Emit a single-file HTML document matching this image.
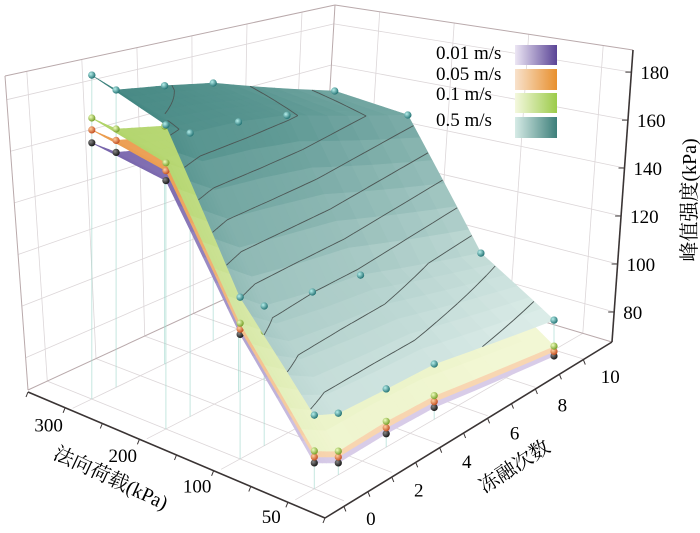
<!DOCTYPE html>
<html><head><meta charset="utf-8"><style>
html,body{margin:0;padding:0;background:#fff;}
svg{display:block;font-family:"Liberation Serif","Noto Serif CJK SC",serif;}
</style></head><body>
<svg id="chart" width="700" height="533" viewBox="0 0 700 533" xmlns="http://www.w3.org/2000/svg">
<defs>
<linearGradient id="lg1" x1="0" x2="1"><stop offset="0" stop-color="#ece6f4"/><stop offset="1" stop-color="#5a4496"/></linearGradient>
<linearGradient id="lg2" x1="0" x2="1"><stop offset="0" stop-color="#f8e2cc"/><stop offset="1" stop-color="#e8902e"/></linearGradient>
<linearGradient id="lg3" x1="0" x2="1"><stop offset="0" stop-color="#f4f8de"/><stop offset="1" stop-color="#9ccb4a"/></linearGradient>
<linearGradient id="lg4" x1="0" x2="1"><stop offset="0" stop-color="#d6ebe6"/><stop offset="1" stop-color="#3d7f7a"/></linearGradient>
<radialGradient id="bTeal" cx="0.35" cy="0.35" r="0.7"><stop offset="0" stop-color="#b8f0ec"/><stop offset="1" stop-color="#1f6f70"/></radialGradient>
<radialGradient id="bGreen" cx="0.35" cy="0.35" r="0.7"><stop offset="0" stop-color="#f0ffc0"/><stop offset="1" stop-color="#6f9a20"/></radialGradient>
<radialGradient id="bOrange" cx="0.35" cy="0.35" r="0.7"><stop offset="0" stop-color="#ffd0a0"/><stop offset="1" stop-color="#c0481a"/></radialGradient>
<radialGradient id="bBlack" cx="0.35" cy="0.35" r="0.7"><stop offset="0" stop-color="#888"/><stop offset="1" stop-color="#111"/></radialGradient>
</defs>
<g id="box"></g>
<g id="drops" opacity="0.6"></g>
<g id="surf"></g>
<g id="contours"></g>
<g id="axes"></g>
<g style="font-size:19px">
  <text x="436" y="59">0.01 m/s</text>
  <rect x="515" y="45" width="42" height="20" fill="url(#lg1)"/>
  <text x="436" y="80">0.05 m/s</text>
  <rect x="515" y="69" width="42" height="21" fill="url(#lg2)"/>
  <text x="436" y="100">0.1 m/s</text>
  <rect x="515" y="93" width="42" height="20" fill="url(#lg3)"/>
  <text x="436" y="126">0.5 m/s</text>
  <rect x="515" y="117" width="42" height="21" fill="url(#lg4)"/>
</g>
<text x="0" y="0" transform="translate(696,200) rotate(-90)" text-anchor="middle" font-size="20">峰值强度(kPa)</text>
<text x="0" y="0" transform="translate(108,484) rotate(25)" text-anchor="middle" font-size="20">法向荷载(kPa)</text>
<text x="0" y="0" transform="translate(518,472) rotate(-33)" text-anchor="middle" font-size="20">冻融次数</text>
</svg>
<script>
const loads = [50, 100, 200, 300];
const cycles = [0, 1, 3, 5, 10];
const zTicks = [80, 100, 120, 140, 160, 180];
const cycleTicks = [0, 2, 4, 6, 8, 10];
const s001 = [[76.6,71.8,72.4,72,65],[112,105,102,100,86],[157.9,151.5,149.5,146.5,130],[162.5,156,151.5,147.5,130]];
const s005 = [[78.7,73.9,74.6,74.2,66.9],[113.9,107,104,102,88],[161.5,155,153,150,133],[167.3,160.5,156,152,134]];
const s01  = [[80.8,76,77,76.5,69.1],[116,109,106,104,90],[164.4,158,156,153,136],[171.7,164.8,160,156,138]];
const s05  = [[93.4,89.5,88.9,88.5,79.8],[125.3,118.2,115.2,113.1,98.7],[178.2,172.3,170.4,166.6,148.9],[187.6,179.5,175.7,171,151.3]];

const NS="http://www.w3.org/2000/svg";
const ZMIN=67.5, ZTOP=189.2;
const F=[325,512],LC=[28,390],R=[612,342],BK=[320,255];
const TL=[5,76],TB=[335,5],TR=[633,50];
const SF=2.9,SL=2.7,SR=2.4,SB=2.2;
function bil(a,b,c,d,u,v){return (1-u)*(1-v)*a+u*(1-v)*b+(1-u)*v*c+u*v*d;}
function floorPt(u,v){return [bil(F[0],LC[0],R[0],BK[0],u,v),bil(F[1],LC[1],R[1],BK[1],u,v)];}
function proj(u,v,z){const p=floorPt(u,v);const s=bil(SF,SL,SR,SB,u,v);return [p[0],p[1]-(z-ZMIN)*s];}
function uScale(load){return 0.1+0.25*loads.indexOf(load);}
function vScale(c){return 0.066+0.0834*c;}
function lerp(a,b,t){return [a[0]+(b[0]-a[0])*t,a[1]+(b[1]-a[1])*t];}
function el(tag,attrs,parent){const e=document.createElementNS(NS,tag);for(const k in attrs)e.setAttribute(k,attrs[k]);parent.appendChild(e);return e;}
const gBox=document.getElementById('box'),gDrops=document.getElementById('drops'),gSurf=document.getElementById('surf'),gCont=document.getElementById('contours'),gAxes=document.getElementById('axes');

function line(p,q,col,w,parent,name){const l=el('line',{x1:p[0].toFixed(1),y1:p[1].toFixed(1),x2:q[0].toFixed(1),y2:q[1].toFixed(1),stroke:col,'stroke-width':w},parent);

return l;}
const gridCol="#dcd6d8";
function wallL(v,z){const b=floorPt(1,v);const t=lerp(TL,TB,v);return lerp(b,t,(z-ZMIN)/(ZTOP-ZMIN));}
function wallR(u,z){const b=floorPt(u,1);const t=lerp(TR,TB,u);return lerp(b,t,(z-ZMIN)/(ZTOP-ZMIN));}
cycleTicks.forEach(c=>{const v=vScale(c);
 line(floorPt(0,v),floorPt(1,v),gridCol,0.8,gBox,'floor-grid-line');
 line(wallL(v,ZMIN),wallL(v,ZTOP),gridCol,0.8,gBox,'left-wall-grid-line');});
loads.forEach(L=>{const u=uScale(L);
 line(floorPt(u,0),floorPt(u,1),gridCol,0.8,gBox,'floor-grid-line');
 line(wallR(u,ZMIN),wallR(u,ZTOP),gridCol,0.8,gBox,'right-wall-grid-line');});
zTicks.forEach(z=>{line(wallL(0,z),wallL(1,z),gridCol,0.8,gBox,'left-wall-grid-line');
 line(wallR(1,z),wallR(0,z),gridCol,0.8,gBox,'right-wall-grid-line');});
const edgeCol="#b9a9ab";
line(LC,TL,edgeCol,1,gBox,'box-edge');line(BK,TB,edgeCol,1,gBox,'box-edge');
line(TL,TB,edgeCol,1,gBox,'box-edge');line(TB,TR,edgeCol,1,gBox,'box-edge');
line(LC,BK,edgeCol,1,gBox,'box-edge');line(BK,R,edgeCol,1,gBox,'box-edge');

loads.forEach((L,li)=>cycles.forEach((c,ci)=>{const u=uScale(L),v=vScale(c);
 line(proj(u,v,s05[li][ci]),floorPt(u,v),"#9fd8cc",1,gDrops,'drop-line');}));

function hex(h){return [parseInt(h.slice(1,3),16),parseInt(h.slice(3,5),16),parseInt(h.slice(5,7),16)];}
function mix(a,b,t){t=Math.max(0,Math.min(1,t));const A=hex(a),B=hex(b);return 'rgb('+A.map((x,i)=>Math.round(x+(B[i]-x)*t)).join(',')+')';}
const series=[
 {data:s001,name:'surface-0.01',lo:'#d8cce8',hi:'#5e4a9c',ball:'url(#bBlack)'},
 {data:s005,name:'surface-0.05',lo:'#f8d6b2',hi:'#e8903a',ball:'url(#bOrange)'},
 {data:s01,name:'surface-0.1',lo:'#f2f7d4',hi:'#a6ce58',ball:'url(#bGreen)'},
 {data:s05,name:'surface-0.5',lo:'#e6f3ef',hi:'#3f847f',ball:'url(#bTeal)'}];
const N=6;
function zAt(d,li,ci,a,b){return (1-a)*(1-b)*d[li][ci]+a*(1-b)*d[li+1][ci]+(1-a)*b*d[li][ci+1]+a*b*d[li+1][ci+1];}
series.forEach(S=>{
 const g=el('g',{},gSurf);
 
 
 const cells=[];
 for(let li=0;li<loads.length-1;li++)for(let ci=0;ci<cycles.length-1;ci++){
  const u0=uScale(loads[li]),u1=uScale(loads[li+1]),v0=vScale(cycles[ci]),v1=vScale(cycles[ci+1]);
  for(let a=0;a<N;a++)for(let b=0;b<N;b++){
   const pts=[[a,b],[a+1,b],[a+1,b+1],[a,b+1]].map(([aa,bb])=>{const A=aa/N,B=bb/N;return proj(u0+(u1-u0)*A,v0+(v1-v0)*B,zAt(S.data,li,ci,A,B));});
   const zc=zAt(S.data,li,ci,(a+.5)/N,(b+.5)/N);
   const du=u0+(u1-u0)*(a+.5)/N,dv=v0+(v1-v0)*(b+.5)/N;
   cells.push({pts,zc,d:du+dv});}}
 cells.sort((p,q)=>q.d-p.d);
 cells.forEach(c=>{const col=mix(S.lo,S.hi,(c.zc-75)/110);
  const p=el('polygon',{points:c.pts.map(q=>q[0].toFixed(1)+','+q[1].toFixed(1)).join(' '),fill:col,stroke:col,'stroke-width':0.6},g);
  
  });
 loads.forEach((L,li)=>cycles.forEach((c,ci)=>{const p=proj(uScale(L),vScale(c),S.data[li][ci]);
  const b=el('circle',{cx:p[0].toFixed(1),cy:p[1].toFixed(1),r:3.6,fill:S.ball},g);
  
  }));
});

const levels=[85,95,105,115,125,135,145,155,165,175];
const M=8;
for(let li=0;li<loads.length-1;li++)for(let ci=0;ci<cycles.length-1;ci++){
 const u0=uScale(loads[li]),u1=uScale(loads[li+1]),v0=vScale(cycles[ci]),v1=vScale(cycles[ci+1]);
 for(let a=0;a<M;a++)for(let b=0;b<M;b++){
  const cs=[[a,b],[a+1,b],[a+1,b+1],[a,b+1]].map(([aa,bb])=>{const A=aa/M,B=bb/M;return {u:u0+(u1-u0)*A,v:v0+(v1-v0)*B,z:zAt(s05,li,ci,A,B)};});
  levels.forEach(Lv=>{const xs=[];
   for(let k=0;k<4;k++){const p=cs[k],q=cs[(k+1)%4];
    if((p.z-Lv)*(q.z-Lv)<0){const t=(Lv-p.z)/(q.z-p.z);xs.push(proj(p.u+(q.u-p.u)*t,p.v+(q.v-p.v)*t,Lv));}}
   if(xs.length>=2){line(xs[0],xs[1],"#4c5654",0.9,gCont,'contour-line');}
   if(xs.length===4){line(xs[2],xs[3],"#4c5654",0.9,gCont,'contour-line');}
  });}}
loads.forEach((L,li)=>cycles.forEach((c,ci)=>{const p=proj(uScale(L),vScale(c),s05[li][ci]);
 const b=el('circle',{cx:p[0].toFixed(1),cy:p[1].toFixed(1),r:3.6,fill:'url(#bTeal)'},gCont);
 
 }));

const axCol="#3a3434";
const FE=[F[0],F[1]+6],LE=[LC[0],LC[1]+2],RE=[R[0],R[1]];
line(FE,LE,axCol,1.6,gAxes,'load-axis-line');
line(FE,RE,axCol,1.6,gAxes,'cycles-axis-line');
line(R,TR,axCol,1.6,gAxes,'z-axis-line');
for(let k=0;k<=8;k++){const p=lerp(FE,LE,k/8);line(p,[p[0]-2,p[1]+5],axCol,1,gAxes,'load-axis-tick');}
for(let k=0;k<=10;k++){const p=lerp(FE,RE,(vScale(k)));line(p,[p[0]+2,p[1]+5],axCol,1,gAxes,'cycles-axis-tick');}
function txt(x,y,s,anchor,name){const t=el('text',{x:x.toFixed(1),y:y.toFixed(1),'font-size':19,'text-anchor':anchor},gAxes);t.textContent=s;
 
 }
loads.forEach(L=>{const p=floorPt(uScale(L),0);txt(p[0]-24,p[1]+23,String(L),'middle','load-tick-label');});
cycleTicks.forEach(c=>{const p=floorPt(0,vScale(c));txt(p[0]+27,p[1]+24,String(c),'middle','cycles-tick-label');});
zTicks.forEach(z=>{const p=lerp(R,TR,(z-ZMIN)/(ZTOP-ZMIN));line(p,[p[0]-6,p[1]],axCol,1,gAxes,'z-axis-tick');txt(p[0]+9,p[1]+7,String(z),'start','z-tick-label');});
</script>
</body></html>
